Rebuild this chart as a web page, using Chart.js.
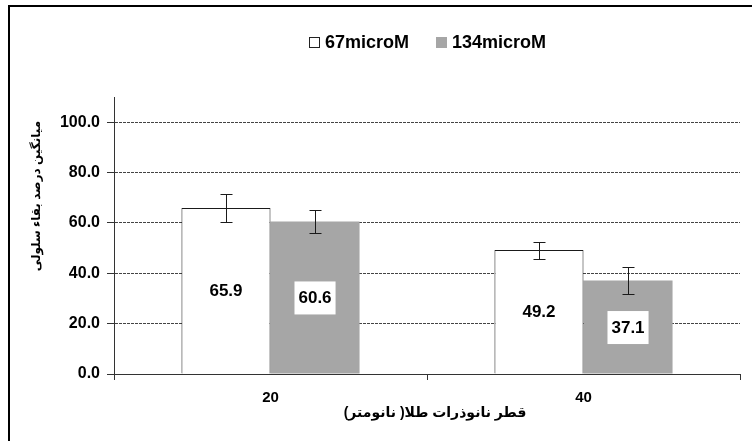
<!DOCTYPE html>
<html>
<head>
<meta charset="utf-8">
<script src="https://cdn.jsdelivr.net/npm/chart.js@4"></script>
<style>
    body { margin: 0; background: #fff; }
    #wrap { width: 752px; height: 441px; }
</style>
</head>
<body>
<div id="wrap"><canvas id="chart" width="752" height="441"></canvas></div>
<script>
// Chart data
const categories = ['20', '40'];
const seriesNames = ['67microM', '134microM'];
const values67 = [65.9, 49.2];
const values134 = [60.6, 37.1];
const errors67 = [5.4, 3.4];
const errors134 = [4.5, 5.3];
const yTicks = [0, 20, 40, 60, 80, 100];
const yTitle = 'میانگین درصد بقاء سلولی';
const xTitle = 'قطر نانوذرات طلا( نانومتر)';

const FONT = 'Arial, "Liberation Sans", "DejaVu Sans", sans-serif';
const errorSets = [errors67, errors134];

// Draws frame, legend, axis titles, error bars and value labels
const extras = {
    id: 'extras',
    afterDatasetsDraw(chart) {
        const ctx = chart.ctx;
        const y = chart.scales.y;
        ctx.save();

        // error bars
        ctx.strokeStyle = '#1a1a1a';
        ctx.lineWidth = 1;
        chart.data.datasets.forEach((ds, i) => {
            const meta = chart.getDatasetMeta(i);
            meta.data.forEach((bar, j) => {
                const v = ds.data[j], e = errorSets[i][j];
                const x = Math.round(bar.x) + 0.5;
                const top = Math.round(y.getPixelForValue(v + e)) + 0.5;
                const bot = Math.round(y.getPixelForValue(v - e)) + 0.5;
                ctx.beginPath();
                ctx.moveTo(x, top); ctx.lineTo(x, bot);
                ctx.moveTo(x - 6, top); ctx.lineTo(x + 6, top);
                ctx.moveTo(x - 6, bot); ctx.lineTo(x + 6, bot);
                ctx.stroke();
            });
        });

        // value labels in the middle of each bar
        ctx.font = 'bold 17px ' + FONT;
        ctx.textAlign = 'center';
        ctx.textBaseline = 'middle';
        chart.data.datasets.forEach((ds, i) => {
            const meta = chart.getDatasetMeta(i);
            meta.data.forEach((bar, j) => {
                const txt = ds.data[j].toFixed(1);
                const cy = (bar.y + bar.base) / 2;
                if (i === 1) {
                    const w = ctx.measureText(txt).width + 8;
                    ctx.fillStyle = '#fff';
                    ctx.fillRect(bar.x - w / 2, cy - 16, w, 33);
                }
                ctx.fillStyle = '#000';
                ctx.fillText(txt, bar.x, cy + 1);
            });
        });
        ctx.restore();
    },
    afterDraw(chart) {
        const ctx = chart.ctx;
        ctx.save();

        // outer frame (left and top edges only are visible)
        ctx.strokeStyle = '#000';
        ctx.lineWidth = 2;
        ctx.beginPath();
        ctx.moveTo(9, 441); ctx.lineTo(9, 6); ctx.lineTo(752, 6);
        ctx.stroke();

        // legend
        ctx.font = 'bold 18px ' + FONT;
        ctx.textBaseline = 'middle';
        ctx.textAlign = 'left';
        const boxX = [309, 436];
        chart.data.datasets.forEach((ds, i) => {
            const bx = boxX[i];
            ctx.fillStyle = ds.backgroundColor;
            ctx.fillRect(bx, 37, 11, 11);
            if (i === 0) {
                ctx.strokeStyle = '#222';
                ctx.lineWidth = 1;
                ctx.strokeRect(bx + 0.5, 37.5, 10, 10);
            }
            ctx.fillStyle = '#000';
            ctx.fillText(ds.label, bx + 16, 43);
        });

        // axis titles
        ctx.font = 'bold 14px ' + FONT;
        ctx.textAlign = 'center';
        ctx.fillText(xTitle, 435, 413);
        ctx.translate(37, 196);
        ctx.rotate(-Math.PI / 2);
        ctx.font = 'bold 12px ' + FONT;
        ctx.fillText(yTitle, 0, 0);
        ctx.restore();
    }
};

const chart = new Chart(document.getElementById('chart'), {
    type: 'bar',
    data: {
        labels: categories,
        datasets: [{
            label: seriesNames[0],
            data: values67,
            backgroundColor: '#ffffff',
            borderColor: '#1a1a1a',
            borderWidth: 1
        }, {
            label: seriesNames[1],
            data: values134,
            backgroundColor: '#a6a6a6',
            borderWidth: 0
        }]
    },
    options: {
        responsive: false,
        animation: false,
        layout: {
            padding: { left: 0, top: 97, right: 12, bottom: 0 }
        },
        datasets: {
            bar: { categoryPercentage: 0.569, barPercentage: 1 }
        },
        plugins: {
            legend: { display: false },
            tooltip: { enabled: false }
        },
        scales: {
            x: {
                grid: {
                    offset: true,
                    drawOnChartArea: false,
                    tickLength: 6,
                    color: '#333'
                },
                border: { color: '#333', width: 1 },
                ticks: {
                    color: '#000',
                    padding: 9,
                    font: { family: FONT, size: 15, weight: 'bold' }
                },
                afterFit(scale) { scale.height = 67; }
            },
            y: {
                min: 0,
                max: 110,
                afterBuildTicks(scale) {
                    scale.ticks = yTicks.map(v => ({ value: v }));
                },
                grid: {
                    color: '#444',
                    lineWidth: 1,
                    tickLength: 7,
                    tickColor: '#333',
                    tickBorderDash: []
                },
                border: { color: '#333', width: 1, dash: [3, 1] },
                ticks: {
                    color: '#000',
                    padding: 7,
                    font: { family: FONT, size: 16, weight: 'bold' },
                    callback: v => v.toFixed(1)
                },
                afterFit(scale) { scale.width = 114; }
            }
        }
    },
    plugins: [extras]
});
</script>
</body>
</html>
